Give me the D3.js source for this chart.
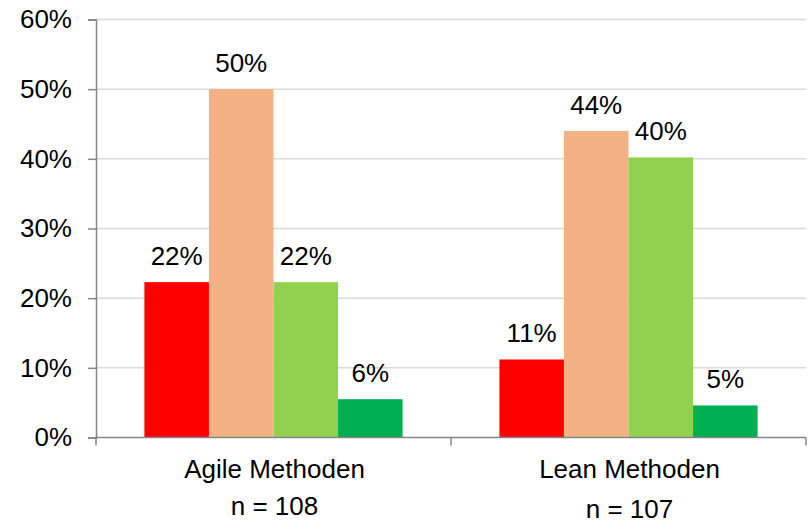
<!doctype html>
<html>
<head>
<meta charset="utf-8">
<title>Methoden</title>
<style>
body { margin: 0; background: #fff; }
text { font-family: "Liberation Sans", Arial, sans-serif; fill: #000; }
</style>
<script src="https://cdn.jsdelivr.net/npm/d3@7"></script>
</head>
<body>
<script>
var categories = ["Agile Methoden", "Lean Methoden"];
var sampleSizes = ["n = 108", "n = 107"];
var seriesColors = ["#ff0000", "#f4b183", "#92d050", "#00b050"];
var agileValues = [22.3, 50.0, 22.3, 5.5];
var leanValues = [11.2, 44.0, 40.2, 4.6];
var yTicks = [0, 10, 20, 30, 40, 50, 60];

var values = [agileValues, leanValues];

var w = 808, h = 524;
var fs = "26px";
var svg = d3.select("body").append("svg")
    .attr("width", w)
    .attr("height", h);

var x0 = d3.scaleBand().domain(categories).range([96, 806]).paddingInner(0).paddingOuter(0);
var x1 = d3.scaleBand().domain(d3.range(4)).range([48.4, x0.bandwidth() - 48.4]);
var y = d3.scaleLinear().domain([0, 60]).range([437.5, 19.5]);

// gridlines
svg.selectAll("line.grid")
    .data(yTicks.slice(1))
    .enter().append("line")
    .attr("x1", 96).attr("x2", 806)
    .attr("y1", function(d) { return y(d); })
    .attr("y2", function(d) { return y(d); })
    .attr("stroke", "#d9d9d9")
    .attr("stroke-width", 1.5);

// bars
var groups = svg.selectAll("g.cat")
    .data(values)
    .enter().append("g")
    .attr("transform", function(d, i) { return "translate(" + x0(categories[i]) + ",0)"; });

groups.selectAll("rect")
    .data(function(d) { return d; })
    .enter().append("rect")
    .attr("x", function(d, i) { return x1(i); })
    .attr("width", x1.bandwidth())
    .attr("y", function(d) { return y(d); })
    .attr("height", function(d) { return y(0) - y(d); })
    .attr("fill", function(d, i) { return seriesColors[i]; });

groups.selectAll("text.val")
    .data(function(d) { return d; })
    .enter().append("text")
    .attr("x", function(d, i) { return x1(i) + x1.bandwidth() / 2; })
    .attr("y", function(d) { return y(d) - 17; })
    .attr("text-anchor", "middle")
    .style("font-size", fs)
    .text(function(d) { return Math.round(d) + "%"; });

// y axis
var yAxis = d3.axisLeft(y)
    .tickValues(yTicks)
    .tickSize(8)
    .tickPadding(16)
    .tickFormat(function(d) { return d + "%"; });

var gy = svg.append("g").attr("transform", "translate(96,0)").call(yAxis);
gy.attr("font-size", null).attr("font-family", null);
gy.selectAll("path, line").attr("stroke", "#868686").attr("stroke-width", 1.5);
gy.selectAll("text").style("font-size", fs).attr("fill", "#000");

// x axis
svg.append("line")
    .attr("x1", 96).attr("x2", 806)
    .attr("y1", y(0)).attr("y2", y(0))
    .attr("stroke", "#868686").attr("stroke-width", 1.5);

svg.selectAll("line.xtick")
    .data(categories.concat(["end"]))
    .enter().append("line")
    .attr("x1", function(d, i) { return 96 + i * x0.bandwidth(); })
    .attr("x2", function(d, i) { return 96 + i * x0.bandwidth(); })
    .attr("y1", y(0)).attr("y2", y(0) + 8)
    .attr("stroke", "#868686").attr("stroke-width", 1.5);

svg.selectAll("text.cat")
    .data(categories)
    .enter().append("text")
    .attr("x", function(d) { return x0(d) + x0.bandwidth() / 2 + 1; })
    .attr("y", 478)
    .attr("text-anchor", "middle")
    .style("font-size", fs)
    .text(function(d) { return d; });

svg.selectAll("text.n")
    .data(sampleSizes)
    .enter().append("text")
    .attr("x", function(d, i) { return x0(categories[i]) + x0.bandwidth() / 2 + 1; })
    .attr("y", function(d, i) { return i === 0 ? 515 : 518; })
    .attr("text-anchor", "middle")
    .style("font-size", fs)
    .text(function(d) { return d; });
</script>
</body>
</html>
